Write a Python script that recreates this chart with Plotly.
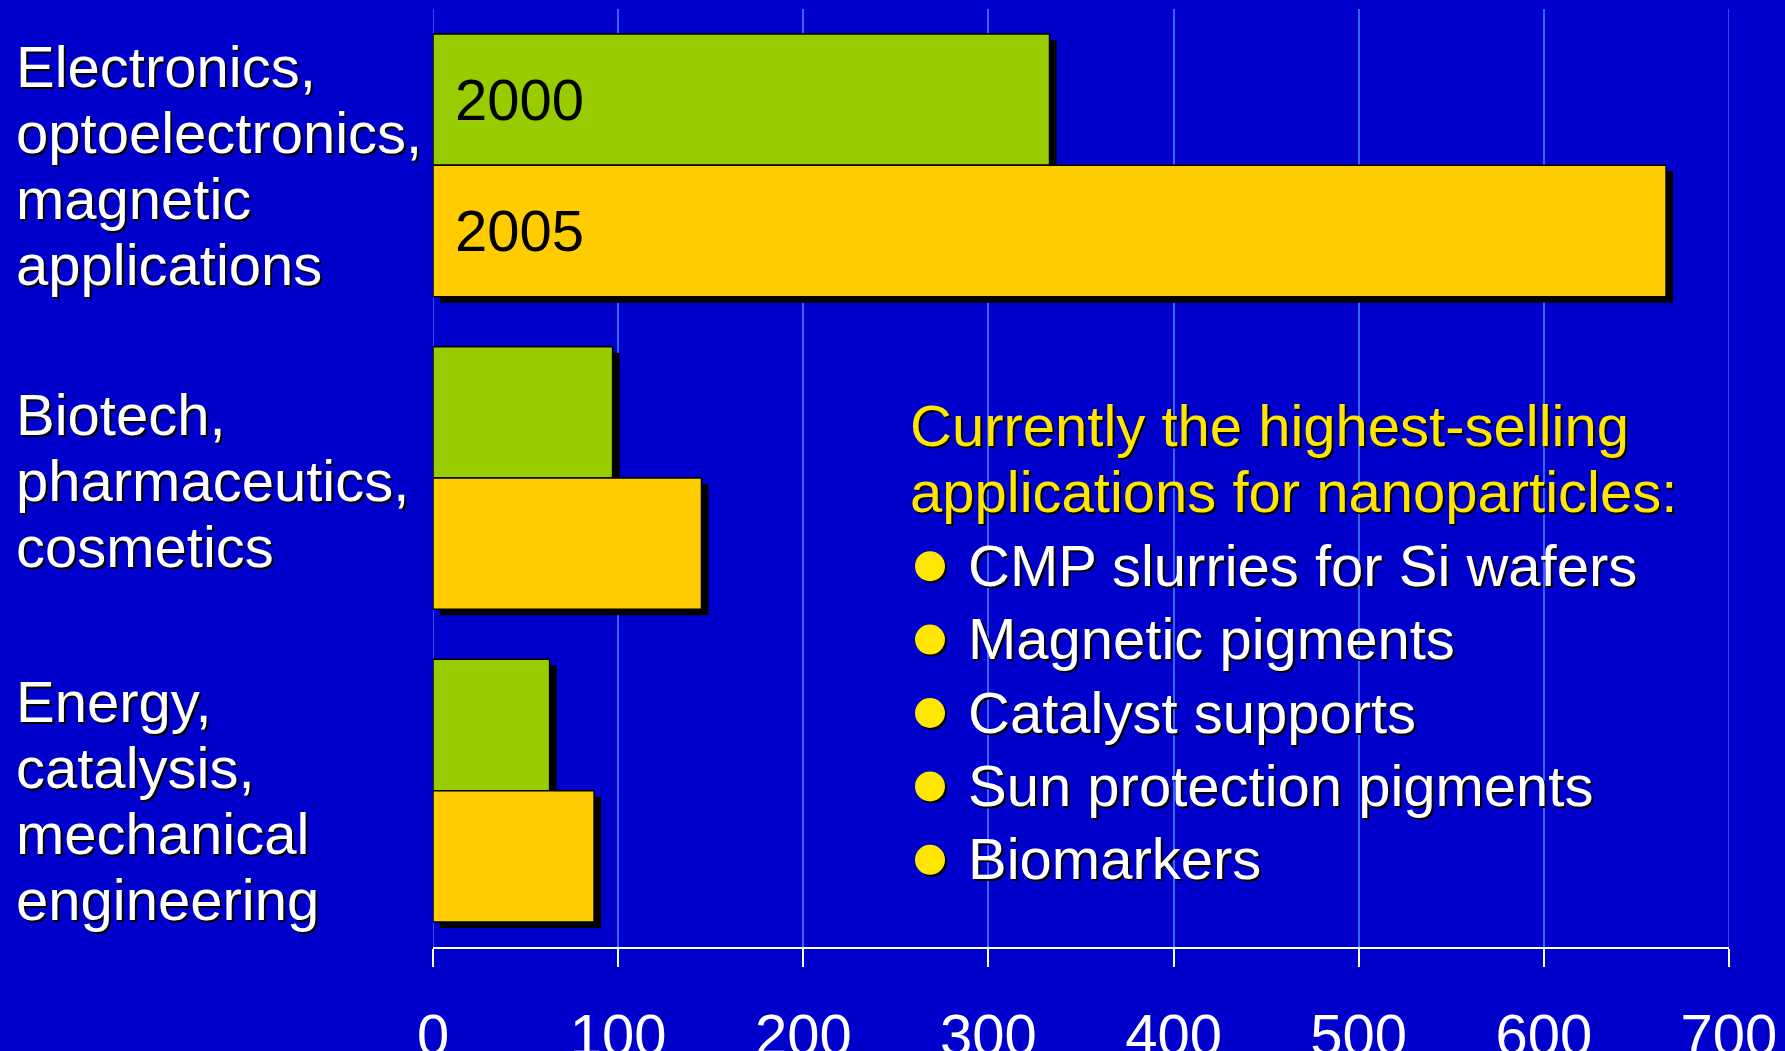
import plotly.graph_objects as go

# ---------------- data ----------------
categories = [
    "Electronics,\noptoelectronics,\nmagnetic\napplications",
    "Biotech,\npharmaceutics,\ncosmetics",
    "Energy,\ncatalysis,\nmechanical\nengineering",
]
years = ["2000", "2005"]
values_2000 = [333, 97, 63]
values_2005 = [666, 145, 87]
x_ticks = [0, 100, 200, 300, 400, 500, 600, 700]
note_title = ["Currently the highest-selling", "applications for nanoparticles:"]
note_items = [
    "CMP slurries for Si wafers",
    "Magnetic pigments",
    "Catalyst supports",
    "Sun protection pigments",
    "Biomarkers",
]

# ---------------- layout constants ----------------
W, H = 1785, 1051
L, R, T, B = 433, 56, 9, 104
PW, PH = W - L - R, H - T - B
XMAX = 700
BG = "#0000CC"
GRID = "#3366FF"
GREEN = "#99CC00"
YELLOW = "#FFCC00"
TXT_YELLOW = "#FFE600"
FONT = "Liberation Sans, Arial, sans-serif"
FS = 58
SHADOW = "2px 2px 0px #000000"

BAR_W = 0.42
px_per_x = PW / XMAX
px_per_y = PH / len(categories)
SHX = 7 / px_per_x
SHY = 6 / px_per_y

ypos = list(range(len(categories)))


def paper_x(px):
    return (px - L) / PW


def paper_y(py):
    return (T + PH - py) / PH


fig = go.Figure()

series = [(years[0], values_2000, GREEN, -BAR_W), (years[1], values_2005, YELLOW, 0.0)]

# shadows
for name, vals, col, off in series:
    fig.add_trace(go.Bar(
        x=vals, y=ypos, base=[SHX] * len(vals), orientation="h",
        offset=off + SHY, width=BAR_W,
        marker=dict(color="#000000", line=dict(width=0)),
        showlegend=False, hoverinfo="skip",
    ))
# bars
for name, vals, col, off in series:
    fig.add_trace(go.Bar(
        x=vals, y=ypos, orientation="h", name=name,
        offset=off, width=BAR_W,
        marker=dict(color=col, line=dict(color="#000000", width=1.5)),
        showlegend=False,
    ))

annotations = []
shapes = []

# gridlines at the axis ends (plotly omits grid at range edges)
for xv in (x_ticks[0], x_ticks[-1]):
    shapes.append(dict(type="line", xref="x", yref="paper", x0=xv, x1=xv,
                       y0=0, y1=1, line=dict(color=GRID, width=1.5), layer="below"))

# year labels inside first group bars
for name, vals, col, off in series:
    annotations.append(dict(
        x=0, y=ypos[0] + off + BAR_W / 2, xref="x", yref="y",
        text=name, showarrow=False, xanchor="left", yanchor="middle",
        xshift=20, font=dict(family=FONT, size=FS, color="#000000"),
    ))

# category labels (left, multi-line, left-aligned)
LINE = 66
label_nudge = [-2, 0, 7]
for i, cat in enumerate(categories):
    lines = cat.split("\n")
    n = len(lines)
    center_px = T + (i + 0.5) * px_per_y
    for j, line in enumerate(lines):
        base = center_px + 23 + label_nudge[i] + (j - (n - 1) / 2) * LINE
        annotations.append(dict(
            x=paper_x(14), y=paper_y(base - 20.5), xref="paper", yref="paper",
            text=line, showarrow=False, xanchor="left", yanchor="middle",
            font=dict(family=FONT, size=FS, color="#FFFFFF", shadow=SHADOW),
        ))

# note block
title_base = [445.7, 511.7]
for line, b in zip(note_title, title_base):
    annotations.append(dict(
        x=paper_x(908), y=paper_y(b - 20.5), xref="paper", yref="paper",
        text=line, showarrow=False, xanchor="left", yanchor="middle",
        font=dict(family=FONT, size=FS, color=TXT_YELLOW, shadow=SHADOW),
    ))
ITEM0, ITEM_STEP = 585.7, 73.4
for k, item in enumerate(note_items):
    b = ITEM0 + k * ITEM_STEP
    annotations.append(dict(
        x=paper_x(966), y=paper_y(b - 20.5), xref="paper", yref="paper",
        text=item, showarrow=False, xanchor="left", yanchor="middle",
        font=dict(family=FONT, size=FS, color="#FFFFFF", shadow=SHADOW),
    ))
    cx, cy, r = 930, b - 19.5, 15
    shapes.append(dict(type="circle", xref="paper", yref="paper",
                       x0=paper_x(cx - r + 2), x1=paper_x(cx + r + 2),
                       y0=paper_y(cy + r + 2), y1=paper_y(cy - r + 2),
                       fillcolor="#000000", line=dict(width=0), layer="above"))
    shapes.append(dict(type="circle", xref="paper", yref="paper",
                       x0=paper_x(cx - r), x1=paper_x(cx + r),
                       y0=paper_y(cy + r), y1=paper_y(cy - r),
                       fillcolor=TXT_YELLOW, line=dict(width=0), layer="above"))

fig.update_layout(
    width=W, height=H, autosize=False,
    margin=dict(l=L, r=R, t=T, b=B, pad=0, autoexpand=False),
    paper_bgcolor=BG, plot_bgcolor=BG,
    barmode="overlay",
    showlegend=False,
    annotations=annotations,
    shapes=shapes,
    font=dict(family=FONT, color="#FFFFFF"),
)
fig.update_xaxes(
    range=[0, XMAX], tickvals=x_ticks, ticktext=[str(v) for v in x_ticks],
    showgrid=True, gridcolor=GRID, gridwidth=1.5, zeroline=False,
    showline=True, linecolor="#FFFFFF", linewidth=2,
    ticks="outside", ticklen=18, tickwidth=1.5, tickcolor="#FFFFFF",
    tickfont=dict(family=FONT, size=58, color="#FFFFFF"),
    ticklabelstandoff=18, automargin=False,
)
fig.update_yaxes(
    range=[len(categories) - 0.5, -0.5], showticklabels=False, showgrid=False,
    zeroline=False, showline=False, ticks="", automargin=False,
)

fig.write_html(
    "out.html",
    config={"displayModeBar": False},
    post_script="document.body.style.margin='0';document.body.style.padding='0';"
                "document.body.style.background='" + BG + "';",
)
